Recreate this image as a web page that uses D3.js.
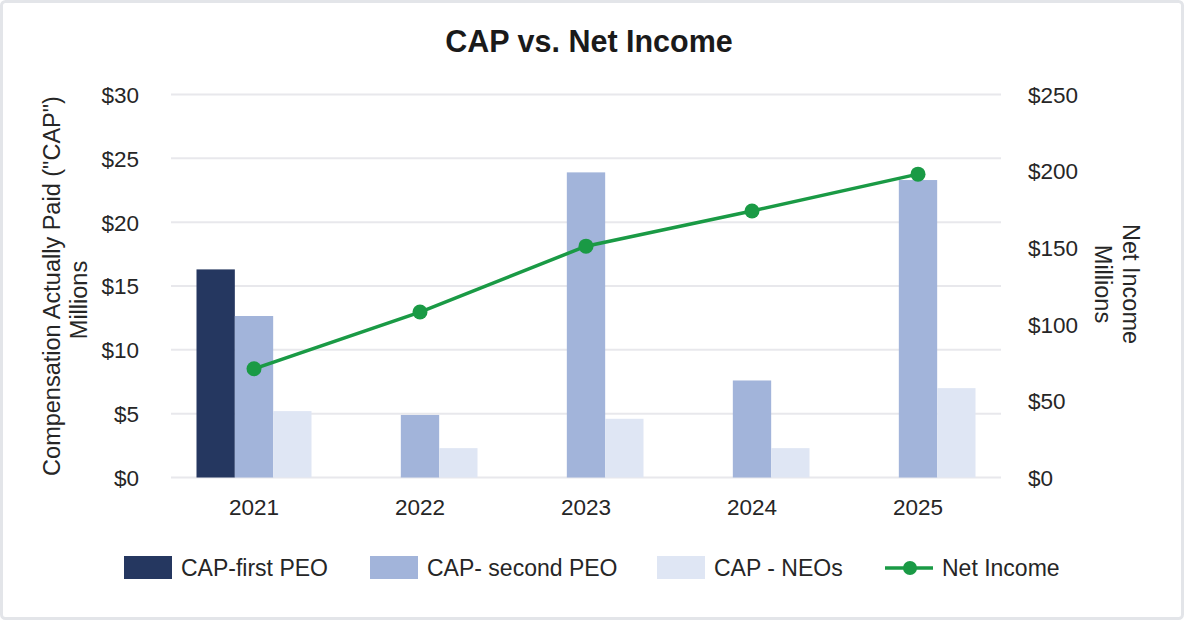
<!DOCTYPE html>
<html>
<head>
<meta charset="utf-8">
<script src="https://cdn.jsdelivr.net/npm/d3@7"></script>
<style>
  html, body { margin: 0; padding: 0; background: #fff; }
  svg { display: block; font-family: "Liberation Sans", Arial, sans-serif; }
  .axis path, .axis line { display: none; }
  .axis text { font-size: 22.5px; fill: #262626; }
</style>
</head>
<body>
<svg id="chart" width="1184" height="620"></svg>
<script>
// ---- data ----
const years        = ['2021', '2022', '2023', '2024', '2025'];
const capFirstPEO  = [16.3, null, null, null, null];
const capSecondPEO = [12.65, 4.9, 23.9, 7.6, 23.3];
const capNEOs      = [5.2, 2.3, 4.6, 2.3, 7.0];
const netIncome    = [71, 108, 151, 174, 198];
const leftTicks    = [0, 5, 10, 15, 20, 25, 30];
const rightTicks   = [0, 50, 100, 150, 200, 250];

const seriesNames = ['CAP-first PEO', 'CAP- second PEO', 'CAP - NEOs'];
const seriesVals  = [capFirstPEO, capSecondPEO, capNEOs];
const C = { first: '#253760', second: '#a2b4da', neo: '#dfe6f4', line: '#1a9a45' };
const barColors = [C.first, C.second, C.neo];

const svg = d3.select('#chart');

// frame
svg.append('rect').attr('x', 1.5).attr('y', 1.5).attr('width', 1181).attr('height', 617)
  .attr('rx', 4).attr('fill', '#fff').attr('stroke', '#e3e5e9').attr('stroke-width', 3);

// title
svg.append('text').attr('x', 589).attr('y', 52).attr('text-anchor', 'middle')
  .style('font-size', '30.5px').style('font-weight', 700).style('fill', '#1a1a1a')
  .text('CAP vs. Net Income');

// scales
const x0 = d3.scaleBand(years, [171, 1001]);
const groupW = 115;
const x1 = d3.scaleBand(d3.range(3), [0, groupW]);
const y  = d3.scaleLinear([0, 30], [477.5, 94.5]);
const yR = d3.scaleLinear([0, 250], [477.5, 94.5]);

// gridlines
svg.append('g').selectAll('line').data(leftTicks).join('line')
  .attr('x1', 171).attr('x2', 1001).attr('y1', d => y(d)).attr('y2', d => y(d))
  .attr('stroke', '#e8e8ec').attr('stroke-width', 2);

// axes
svg.append('g').attr('class', 'axis').attr('transform', 'translate(139,0)')
  .call(d3.axisLeft(y).tickValues(leftTicks).tickSize(0).tickPadding(0).tickFormat(d => '$' + d))
  .selectAll('text').attr('dy', '0.35em');
svg.append('g').attr('class', 'axis').attr('transform', 'translate(1028,0)')
  .call(d3.axisRight(yR).tickValues(rightTicks).tickSize(0).tickPadding(0).tickFormat(d => '$' + d))
  .selectAll('text').attr('dy', '0.35em');
svg.append('g').attr('class', 'axis').attr('transform', 'translate(0,499)')
  .call(d3.axisBottom(x0).tickSize(0).tickPadding(0))
  .selectAll('text').attr('dy', '0.71em');

// axis titles
const leftT = svg.append('g').style('font-size', '23.5px').style('fill', '#262626');
leftT.append('text').attr('transform', 'translate(60,286) rotate(-90)').attr('text-anchor', 'middle')
  .text('Compensation Actually Paid ("CAP")');
leftT.append('text').attr('transform', 'translate(87,300) rotate(-90)').attr('text-anchor', 'middle')
  .text('Millions');
const rightT = svg.append('g').style('font-size', '23.5px').style('fill', '#262626');
rightT.append('text').attr('transform', 'translate(1123,284) rotate(90)').attr('text-anchor', 'middle')
  .text('Net Income');
rightT.append('text').attr('transform', 'translate(1095,284) rotate(90)').attr('text-anchor', 'middle')
  .text('Millions');

// bars
const off = (x0.bandwidth() - groupW) / 2;
seriesVals.forEach((vals, si) => {
  svg.append('g').selectAll('rect')
    .data(years.map((yr, i) => ({ yr, v: vals[i] })).filter(d => d.v != null))
    .join('rect')
    .attr('x', d => x0(d.yr) + off + x1(si)).attr('width', x1.bandwidth())
    .attr('y', d => y(d.v)).attr('height', d => y(0) - y(d.v))
    .attr('fill', barColors[si]);
});

// net income line
const pts = years.map((yr, i) => ({ yr, v: netIncome[i] }));
const cx = d => x0(d.yr) + x0.bandwidth() / 2;
svg.append('path').datum(pts).attr('fill', 'none').attr('stroke', C.line).attr('stroke-width', 3.5)
  .attr('d', d3.line().x(cx).y(d => yR(d.v)));
svg.append('g').selectAll('circle').data(pts).join('circle')
  .attr('cx', cx).attr('cy', d => yR(d.v)).attr('r', 7.5).attr('fill', C.line);

// legend
const legend = svg.append('g').style('font-size', '23px').style('fill', '#262626');
const sqX = [124, 370, 657], txX = [181, 427, 714];
seriesNames.forEach((n, i) => {
  legend.append('rect').attr('x', sqX[i]).attr('y', 556).attr('width', 48).attr('height', 23)
    .attr('fill', barColors[i]);
  legend.append('text').attr('x', txX[i]).attr('y', 568).attr('dy', '0.35em').text(n);
});
legend.append('line').attr('x1', 885).attr('x2', 933).attr('y1', 568).attr('y2', 568)
  .attr('stroke', C.line).attr('stroke-width', 3.5);
legend.append('circle').attr('cx', 910).attr('cy', 568).attr('r', 7).attr('fill', C.line);
legend.append('text').attr('x', 942).attr('y', 568).attr('dy', '0.35em').text('Net Income');
</script>
</body>
</html>
